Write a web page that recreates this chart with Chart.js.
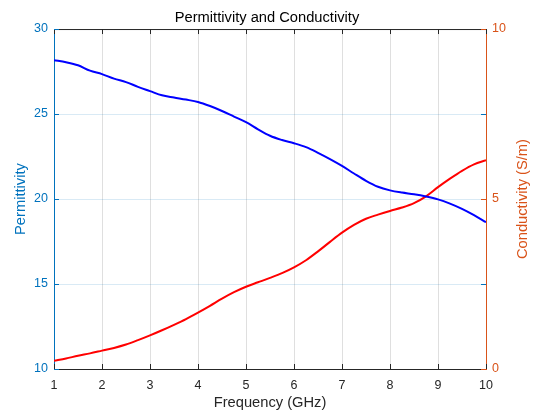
<!DOCTYPE html>
<html lang="en">
  <head>
    <meta charset="UTF-8" />
    <title>Permittivity and Conductivity</title>
    <script src="https://cdn.jsdelivr.net/npm/chart.js"></script>
    <style>
      body {
        margin: 0;
        background-color: #ffffff;
      }
      .chart-container {
        width: 534px;
        height: 413px;
      }
    </style>
  </head>
  <body>
    <div class="chart-container">
      <canvas id="graficoPermitividade" width="534" height="413"></canvas>
    </div>

    <script>
      // Frequency samples (GHz)
      const frequency = [
        1, 1.25, 1.5, 1.75, 2, 2.25, 2.5, 2.75, 3, 3.25, 3.5, 3.75, 4, 4.25,
        4.5, 4.75, 5, 5.25, 5.5, 5.75, 6, 6.25, 6.5, 6.75, 7, 7.25, 7.5, 7.75,
        8, 8.25, 8.5, 8.75, 9, 9.25, 9.5, 9.75, 10,
      ];

      // Relative permittivity (left axis)
      const permittivity = [
        28.17, 28.05, 27.87, 27.55, 27.35, 27.08, 26.88, 26.6, 26.35, 26.1,
        25.97, 25.85, 25.71, 25.47, 25.18, 24.85, 24.52, 24.1, 23.72, 23.47,
        23.28, 23.05, 22.72, 22.35, 21.95, 21.5, 21.07, 20.72, 20.51, 20.38,
        20.28, 20.15, 19.98, 19.73, 19.42, 19.05, 18.64,
      ];

      // Conductivity in S/m (right axis)
      const conductivity = [
        0.24, 0.31, 0.39, 0.46, 0.54, 0.62, 0.72, 0.85, 0.99, 1.14, 1.3, 1.47,
        1.66, 1.86, 2.07, 2.26, 2.42, 2.55, 2.68, 2.82, 2.99, 3.2, 3.46, 3.74,
        4.01, 4.24, 4.42, 4.54, 4.65, 4.75, 4.88, 5.08, 5.35, 5.6, 5.83, 6.02,
        6.14,
      ];

      const xTicks = [1, 2, 3, 4, 5, 6, 7, 8, 9, 10];
      const leftTicks = [10, 15, 20, 25, 30];
      const rightTicks = [0, 5, 10];
      const rightTitle = "Conductivity (S/m)";

      const corEsquerda = "#0072BD";
      const corDireita = "#D95319";
      const corEixo = "#262626";
      const fonte = "'Liberation Sans', Arial, Helvetica, sans-serif";

      // Top box line, inward tick marks and the right axis label (read bottom-up)
      const molduraPlugin = {
        id: "moldura",
        afterDraw(chart) {
          const { ctx, chartArea: a, scales } = chart;
          const len = 5;
          ctx.save();
          ctx.lineWidth = 1;
          ctx.strokeStyle = corEixo;
          ctx.beginPath();
          ctx.moveTo(a.left, a.top + 0.5);
          ctx.lineTo(a.right, a.top + 0.5);
          xTicks.forEach((v) => {
            const px = Math.round(scales.x.getPixelForValue(v)) + 0.5;
            ctx.moveTo(px, a.bottom);
            ctx.lineTo(px, a.bottom - len);
            ctx.moveTo(px, a.top);
            ctx.lineTo(px, a.top + len);
          });
          ctx.stroke();

          ctx.strokeStyle = corEsquerda;
          ctx.beginPath();
          leftTicks.forEach((v) => {
            const py = Math.round(scales.y.getPixelForValue(v)) + 0.5;
            ctx.moveTo(a.left, py);
            ctx.lineTo(a.left + len, py);
            ctx.moveTo(a.right, py);
            ctx.lineTo(a.right - len, py);
          });
          ctx.stroke();

          ctx.strokeStyle = corDireita;
          ctx.beginPath();
          rightTicks.forEach((v) => {
            const py = Math.round(scales.y1.getPixelForValue(v)) + 0.5;
            ctx.moveTo(a.right, py);
            ctx.lineTo(a.right - len, py);
          });
          ctx.stroke();

          const s = scales.y1;
          ctx.translate(s.right - 11.5, (a.top + a.bottom) / 2);
          ctx.rotate(-Math.PI / 2);
          ctx.fillStyle = corDireita;
          ctx.font = "14.7px " + fonte;
          ctx.textAlign = "center";
          ctx.textBaseline = "middle";
          ctx.fillText(rightTitle, 0, 0);
          ctx.restore();
        },
      };

      const ctx = document
        .getElementById("graficoPermitividade")
        .getContext("2d");

      new Chart(ctx, {
        type: "line",
        data: {
          datasets: [
            {
              label: "Permittivity",
              data: frequency.map((f, i) => ({ x: f, y: permittivity[i] })),
              borderColor: "#0000FF",
              borderWidth: 2,
              pointRadius: 0,
              cubicInterpolationMode: "monotone",
              yAxisID: "y",
            },
            {
              label: "Conductivity",
              data: frequency.map((f, i) => ({ x: f, y: conductivity[i] })),
              borderColor: "#FF0000",
              borderWidth: 2,
              pointRadius: 0,
              cubicInterpolationMode: "monotone",
              yAxisID: "y1",
            },
          ],
        },
        options: {
          responsive: false,
          animation: false,
          devicePixelRatio: 1,
          layout: { padding: 0 },
          plugins: {
            legend: { display: false },
            tooltip: { enabled: false },
            title: {
              display: true,
              text: "Permittivity and Conductivity",
              color: "#000000",
              font: { family: fonte, size: 14.7, weight: "normal" },
              padding: { top: 9, bottom: 2.4 },
            },
          },
          scales: {
            x: {
              type: "linear",
              min: 1,
              max: 10,
              afterFit: (scale) => {
                scale.height = 44;
              },
              afterBuildTicks: (scale) => {
                scale.ticks = xTicks.map((v) => ({ value: v }));
              },
              grid: {
                color: "rgba(38, 38, 38, 0.15)",
                drawTicks: false,
              },
              border: { color: corEixo, width: 1 },
              ticks: {
                color: corEixo,
                padding: 9,
                font: { family: fonte, size: 12.5 },
              },
              title: {
                display: true,
                text: "Frequency (GHz)",
                color: corEixo,
                font: { family: fonte, size: 14.7 },
                padding: { top: 0, bottom: 1 },
              },
            },
            y: {
              position: "left",
              min: 10,
              max: 30,
              afterFit: (scale) => {
                scale.width = 54;
              },
              afterBuildTicks: (scale) => {
                scale.ticks = leftTicks.map((v) => ({ value: v }));
              },
              grid: {
                color: "rgba(0, 114, 189, 0.15)",
                drawTicks: false,
              },
              border: { color: corEsquerda, width: 1 },
              ticks: {
                color: corEsquerda,
                padding: 6,
                font: { family: fonte, size: 12.5 },
              },
              title: {
                display: true,
                text: "Permittivity",
                color: corEsquerda,
                font: { family: fonte, size: 14.7 },
                padding: { top: 12, bottom: 0 },
              },
            },
            y1: {
              position: "right",
              min: 0,
              max: 10,
              afterFit: (scale) => {
                scale.width = 48;
              },
              afterBuildTicks: (scale) => {
                scale.ticks = rightTicks.map((v) => ({ value: v }));
              },
              grid: { display: false, drawTicks: false },
              border: { color: corDireita, width: 1 },
              ticks: {
                color: corDireita,
                padding: 6,
                font: { family: fonte, size: 12.5 },
              },
            },
          },
        },
        plugins: [molduraPlugin],
      });
    </script>
  </body>
</html>
